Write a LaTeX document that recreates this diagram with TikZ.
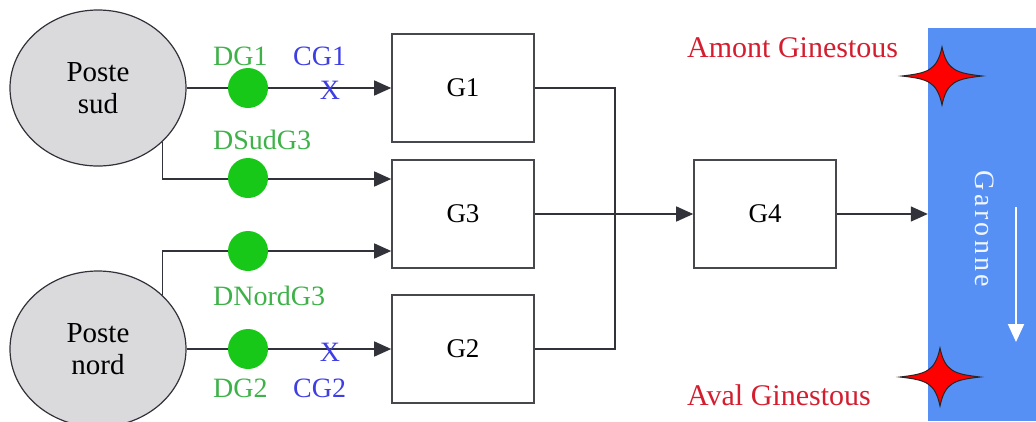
\documentclass[tikz,border=0pt]{standalone}
\usepackage{fontspec}
\setmainfont{Liberation Serif}
\usetikzlibrary{arrows.meta,shapes.geometric,calc}
\definecolor{linec}{RGB}{50,50,58}
\definecolor{dotg}{RGB}{24,200,24}
\definecolor{txtg}{RGB}{62,178,72}
\definecolor{txtb}{RGB}{62,62,228}
\definecolor{txtr}{RGB}{212,30,48}
\definecolor{river}{RGB}{86,144,245}
\definecolor{ellf}{RGB}{218,218,221}
\tikzset{
  conn/.style={draw=linec, line width=1.4pt},
  arr/.style={conn, -{Triangle[length=17pt,width=15pt]}},
  poste/.style={ellipse, draw=linec, line width=1.2pt, fill=ellf, minimum width=176pt, minimum height=156pt, inner sep=0pt, align=center, font=\fontsize{29}{32}\selectfont},
  gbox/.style={rectangle, draw=linec!90, line width=1.6pt, minimum width=142pt, minimum height=108pt, inner sep=0pt, font=\fontsize{27}{29}\selectfont},
  gdot/.style={circle, fill=dotg, minimum size=40pt, inner sep=0pt},
  glab/.style={anchor=base west, inner sep=0pt, text=txtg, font=\fontsize{28}{30}\selectfont},
  blab/.style={anchor=base west, inner sep=0pt, text=txtb, font=\fontsize{28}{30}\selectfont},
  xlab/.style={inner sep=0pt, text=txtb, font=\fontsize{28}{30}\selectfont},
  rlab/.style={anchor=base west, inner sep=0pt, text=txtr, font=\fontsize{30}{32}\selectfont},
  rstar/.pic={\filldraw[fill=red, draw=black!85, line width=1pt]
    (-40,0) .. controls (-15,-3) and (-5,-5) .. (0,-29)
    .. controls (5,-5) and (15,-3) .. (40,0)
    .. controls (15,3) and (5,5) .. (0,29)
    .. controls (-5,5) and (-15,3) .. cycle;}
}
\begin{document}
\begin{tikzpicture}[x=1pt,y=-1pt]
\useasboundingbox (0,0) rectangle (1036,421);
\clip (0,0) rectangle (1036,421);
% river
\node[rectangle, fill=river, minimum width=108pt, minimum height=393pt, inner sep=0pt] (river) at (982,224.5) {};
\node[rotate=-90, text=white!92!river, font=\fontsize{28}{30}\selectfont\addfontfeatures{LetterSpace=12}] (garonne) at (985,229) {Garonne};
\coordinate (wa1) at (1016,207);
\coordinate (wa2) at (1016,342);
\draw[white, line width=2pt, -{Triangle[length=18pt,width=16pt]}] (wa1) -- (wa2);
% stations
\node[poste] (sud) at (98,88) {Poste\\sud};
\node[poste] (nord) at (98,349) {Poste\\nord};
% boxes
\node[gbox] (G1) at (463,88) {G1};
\node[gbox] (G3) at (463,214) {G3};
\node[gbox] (G2) at (463,349) {G2};
\node[gbox] (G4) at (765,214) {G4};
% inputs
\coordinate (g3a) at ($(G3.west)+(0,-35)$);
\coordinate (g3b) at ($(G3.west)+(0,37)$);
\draw[arr] (sud.east) -- (G1.west);
\draw[arr] (sud.-40) |- (g3a);
\draw[arr] (nord.40) |- (g3b);
\draw[arr] (nord.east) -- (G2.west);
% dots
\node[gdot] (d1) at (248,88) {};
\node[gdot] (d3s) at (248,178) {};
\node[gdot] (d3n) at (248,251) {};
\node[gdot] (d2) at (248,349) {};
% outputs
\coordinate (m) at (615,214);
\draw[conn] (G1.east) -| (m);
\draw[conn] (G2.east) -| (m);
\draw[arr] (G3.east) -- (G4.west);
\draw[arr] (G4.east) -- (G4.east -| river.west);
% labels
\node[glab] (l1) at (213,65) {DG1};
\node[blab] (c1) at (293,65) {CG1};
\node[xlab] (x1) at (330,90) {X};
\node[glab] (l3s) at (213,149) {DSudG3};
\node[glab] (l3n) at (213,305) {DNordG3};
\node[glab] (l2) at (213,397) {DG2};
\node[blab] (c2) at (293,397) {CG2};
\node[xlab] (x2) at (330,352) {X};
% stars and names
\pic at (942,76) {rstar};
\pic at (940,377) {rstar};
\node[rlab] (amont) at (687,57) {Amont Ginestous};
\node[rlab] (aval) at (687,405) {Aval Ginestous};
\end{tikzpicture}
\end{document}
